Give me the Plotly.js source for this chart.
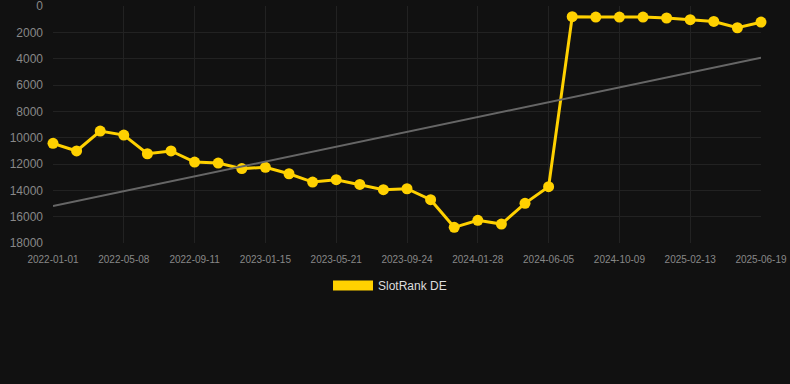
<!DOCTYPE html>
<html>
<head>
<meta charset="utf-8">
<script src="https://cdn.plot.ly/plotly-3.0.1.min.js"></script>
<style>
  html, body { margin: 0; padding: 0; background: #111111; }
  #chart { width: 790px; height: 384px; }
</style>
</head>
<body>
<div id="chart"></div>
<script>
const dates = [
  "2022-01-01", "2022-02-12", "2022-03-26",
  "2022-05-08", "2022-06-19", "2022-07-31",
  "2022-09-11", "2022-10-23", "2022-12-04",
  "2023-01-15", "2023-02-26", "2023-04-09",
  "2023-05-21", "2023-07-02", "2023-08-13",
  "2023-09-24", "2023-11-05", "2023-12-17",
  "2024-01-28", "2024-03-10", "2024-04-22",
  "2024-06-05", "2024-07-17", "2024-08-28",
  "2024-10-09", "2024-11-20", "2025-01-01",
  "2025-02-13", "2025-03-27", "2025-05-08",
  "2025-06-19"
];
const rankDE = [
  10430, 11010, 9500, 9800, 11220, 11010, 11850, 11930, 12350, 12250,
  12740, 13370, 13190, 13550, 13950, 13880, 14710, 16810, 16280, 16560,
  14990, 13720, 810, 835, 835, 835, 910, 1040, 1170, 1650, 1220
];
const tickDates = [
  "2022-01-01", "2022-05-08", "2022-09-11", "2023-01-15", "2023-05-21",
  "2023-09-24", "2024-01-28", "2024-06-05", "2024-10-09", "2025-02-13", "2025-06-19"
];
const trendX = ["2022-01-01", "2025-06-19"];
const trendY = [15190, 3925];
const yTicks = [0, 2000, 4000, 6000, 8000, 10000, 12000, 14000, 16000, 18000];
const yTickText = ["0", "2000", "4000", "6000", "8000", "10000", "12000", "14000", "16000", "18000"];
const seriesName = "SlotRank DE";

const gold = "#FFD100";

const traces = [
  {
    x: dates, y: rankDE, type: "scatter", mode: "lines+markers",
    line: { color: gold, width: 3 },
    marker: { color: gold, size: 11 },
    showlegend: false, name: seriesName, cliponaxis: false
  },
  {
    x: trendX, y: trendY, type: "scatter", mode: "lines",
    line: { color: "#666666", width: 2 },
    hoverinfo: "skip", showlegend: false
  },
  {
    x: [null], y: [null], type: "scatter", mode: "lines",
    line: { color: gold, width: 11 },
    name: seriesName, showlegend: true
  }
];

const layout = {
  width: 790, height: 384,
  paper_bgcolor: "#111111", plot_bgcolor: "#111111",
  margin: { l: 53, r: 29, t: 6, b: 141 },
  font: { family: "Liberation Sans, Arial, sans-serif", color: "#888888" },
  xaxis: {
    type: "category",
    categoryorder: "array", categoryarray: dates,
    range: [0, dates.length - 1],
    tickmode: "array", tickvals: tickDates, ticktext: tickDates,
    tickfont: { size: 10, color: "#888888" },
    ticklabelstandoff: 9,
    ticklabeloverflow: "allow",
    showgrid: true, gridcolor: "#222222", gridwidth: 1,
    zeroline: false, showline: false, ticks: "",
    tickangle: 0
  },
  yaxis: {
    range: [18000, -2],
    tickmode: "array", tickvals: yTicks, ticktext: yTickText,
    tickfont: { size: 12, color: "#888888" },
    ticklabelstandoff: 9,
    ticklabeloverflow: "allow",
    showgrid: true, gridcolor: "#222222", gridwidth: 1,
    zeroline: false, showline: false, ticks: ""
  },
  showlegend: true,
  legend: {
    orientation: "h", x: 0.476, xanchor: "center", y: -0.118, yanchor: "top",
    font: { size: 12, color: "#dddddd" },
    itemwidth: 40
  }
};

Plotly.newPlot("chart", traces, layout, { displayModeBar: false, staticPlot: true });
</script>
</body>
</html>
